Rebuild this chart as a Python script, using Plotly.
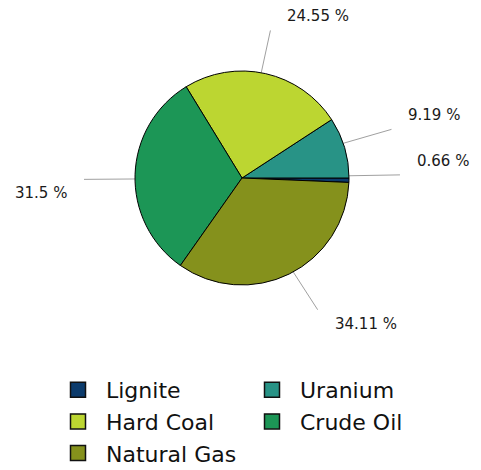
import math
import plotly.graph_objects as go

# ---- data ----
labels = ["Lignite", "Uranium", "Hard Coal", "Crude Oil", "Natural Gas"]
values = [0.66, 9.19, 24.55, 31.5, 34.11]
colors = ["#0c3b6c", "#289386", "#bcd631", "#1c9656", "#85911c"]

# page has an 8px body margin; size figure to fit the 481x470 window
OFF = 8
W, H = 481 - OFF, 470 - OFF


def fx(x):  # window px -> paper x
    return (x - OFF) / W


def fy(y):  # window px -> paper y
    return (470 - y) / H


cx, cy, r = 242, 178, 107          # pie centre / radius (window px)
rx_end, ry_end = 158, 150          # leader line end radii

fig = go.Figure()
fig.add_trace(go.Pie(
    labels=labels, values=values, sort=False,
    direction="counterclockwise", rotation=90,
    marker=dict(colors=colors, line=dict(color="#000000", width=1)),
    textinfo="none", hoverinfo="label+percent",
    domain=dict(x=[fx(cx - r), fx(cx + r)], y=[fy(cy + r), fy(cy - r)]),
    showlegend=False,
))

# leader lines + labels computed from the values
total = sum(values)
lx, ly = [], []
annotations = []
cum = 0.0
for lab, v in zip(labels, values):
    th = math.radians(360 * (cum + v / 2) / total)
    cum += v
    c, s = math.cos(th), math.sin(th)
    x0, y0 = cx + r * c, cy - r * s
    x1, y1 = cx + rx_end * c, cy - ry_end * s
    lx += [x0, x1, None]
    ly += [y0, y1, None]
    sx = 1 if c >= 0 else -1
    sy = 1 if s >= 0 else -1
    annotations.append(dict(
        x=x1 + 15 * sx, y=y1 - 14 * sy, xref="x", yref="y",
        text=f"{v:g} %", showarrow=False,
        xanchor="left" if sx > 0 else "right", yanchor="middle",
        font=dict(family="DejaVu Sans", size=15, color="#1a1a1a"),
    ))

fig.add_trace(go.Scatter(x=lx, y=ly, mode="lines",
                         line=dict(color="#a0a0a0", width=1),
                         hoverinfo="skip", showlegend=False))

# legend entries (square swatches)
for lab, col in zip(labels, colors):
    fig.add_trace(go.Scatter(
        x=[None], y=[None], mode="markers", name=lab,
        marker=dict(symbol="square", size=15, color=col,
                    line=dict(color="#111111", width=1.5)),
        showlegend=True, hoverinfo="skip",
    ))

fig.update_layout(
    width=W, height=H,
    margin=dict(l=0, r=0, t=0, b=0, autoexpand=False),
    paper_bgcolor="white", plot_bgcolor="white",
    xaxis=dict(range=[OFF, 481], visible=False, fixedrange=True),
    yaxis=dict(range=[470, OFF], visible=False, fixedrange=True),
    annotations=annotations,
    legend=dict(
        orientation="h", x=fx(50), y=fy(369),
        xanchor="left", yanchor="top",
        entrywidth=133, entrywidthmode="pixels",
        itemwidth=46,
        font=dict(family="DejaVu Sans", size=22, color="#111111"),
        bgcolor="rgba(0,0,0,0)",
    ),
)

fig.write_html("out.html")
